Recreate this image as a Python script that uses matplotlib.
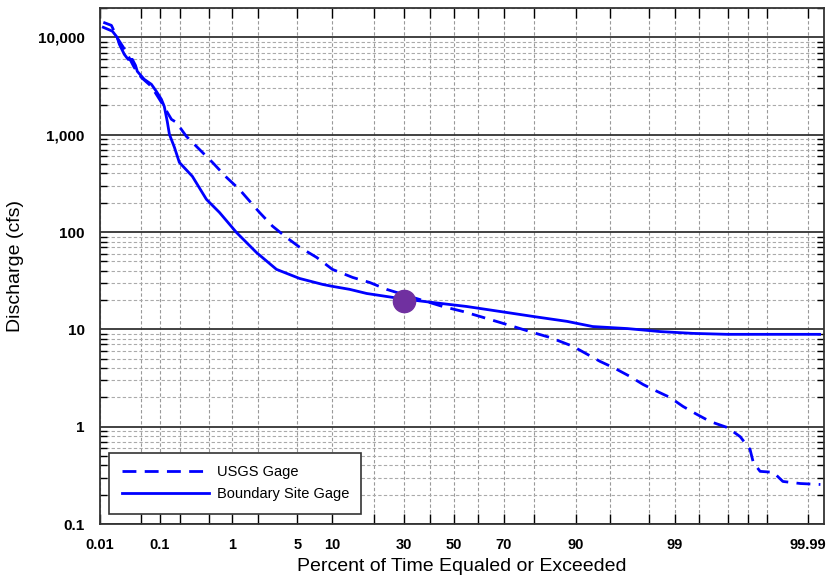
import math
import numpy as np
import matplotlib
matplotlib.use("Agg")
import matplotlib.pyplot as plt
from matplotlib.ticker import FixedLocator, FixedFormatter, NullLocator, LogLocator

# exceedance curves (percent of time, discharge in cfs)
usgs_pct = [0.0115, 0.016, 0.020, 0.027, 0.032, 0.039, 0.051, 0.074, 0.106, 0.150,
            0.177, 0.247, 0.375, 0.56, 0.845, 1.21, 2.06, 2.84, 3.94, 5.25,
            7.47, 10.1, 14.4, 18.8, 24.0, 32.2, 45.4, 53.8, 60.8, 72.2,
            79.7, 84.4, 89.5, 93.8, 95.3, 96.8, 97.67, 98.37, 98.85, 99.20,
            99.47, 99.65, 99.80, 99.870, 99.908, 99.918, 99.936, 99.961, 99.973, 99.9865,
            99.9942]
usgs_cfs = [14300, 13300, 10000, 7550, 6240, 4930, 3890, 3140, 2150, 1440,
            1340, 963, 708, 520, 365, 275, 159, 115, 88, 70,
            55, 41.4, 34.2, 30.4, 25.8, 21.8, 17.2, 15.3, 13.6, 11.0,
            9.3, 8.27, 6.7, 4.69, 4.07, 3.29, 2.72, 2.31, 2.0, 1.62,
            1.34, 1.13, 0.98, 0.79, 0.585, 0.43, 0.348, 0.34, 0.274, 0.261,
            0.255]

site_pct = [0.0115, 0.0166, 0.0202, 0.022, 0.0267, 0.031, 0.0364, 0.041, 0.044, 0.057,
            0.074, 0.0886, 0.106, 0.117, 0.130, 0.140, 0.166, 0.196, 0.30, 0.466,
            0.69, 1.12, 1.90, 3.12, 5.25, 8.4, 10.1, 13.7, 18.0, 28.5,
            41.3, 55.4, 68.6, 79.7, 88.3, 92.8, 96.6, 98.5, 99.41, 99.80,
            99.994]
site_cfs = [12700, 11600, 10000, 8500, 6700, 5950, 5950, 5170, 4480, 3710,
            3300, 2790, 2310, 1960, 1370, 1010, 743, 520, 374, 217,
            159, 99, 61.8, 41.4, 33.4, 29, 27.7, 25.8, 23.4, 20.8,
            18.9, 17.2, 15.3, 13.6, 12.1, 10.7, 10.2, 9.5, 9.1, 8.9,
            8.9]

point_pct = [30]
point_cfs = [19.5]

grid_pct = [0.05, 0.1, 0.2, 0.5, 1, 2, 5, 10, 20, 30, 40, 50, 60, 70, 80, 90,
            95, 98, 99, 99.5, 99.8, 99.9, 99.95, 99.99]
label_pct = [0.01, 0.1, 1, 5, 10, 30, 50, 70, 90, 99, 99.99]
y_ticks = [0.1, 1, 10, 100, 1000, 10000]
y_labels = ["0.1", "1", "10", "100", "1,000", "10,000"]


# normal probability scale (Acklam's inverse normal approximation)
A = [-3.969683028665376e+01, 2.209460984245205e+02, -2.759285104469687e+02,
     1.383577518672690e+02, -3.066479806614716e+01, 2.506628277459239e+00]
B = [-5.447609879822406e+01, 1.615858368580409e+02, -1.556989798598866e+02,
     6.680131188771972e+01, -1.328068155288572e+01]
C = [-7.784894002430293e-03, -3.223964580411365e-01, -2.400758277161838e+00,
     -2.549671348619094e+00, 4.374664141464968e+00, 2.938163982698783e+00]
D = [7.784695709041462e-03, 3.224671290700398e-01, 2.445134137142996e+00,
     3.754408661907416e+00]


def pct_to_z(pct):
    p = np.clip(np.asarray(pct, dtype=float) / 100.0, 1e-12, 1 - 1e-12)
    q = p - 0.5
    r = q * q
    mid = (((((A[0]*r + A[1])*r + A[2])*r + A[3])*r + A[4])*r + A[5]) * q / \
          (((((B[0]*r + B[1])*r + B[2])*r + B[3])*r + B[4])*r + 1)
    t = np.sqrt(-2 * np.log(np.minimum(p, 1 - p)))
    tail = (((((C[0]*t + C[1])*t + C[2])*t + C[3])*t + C[4])*t + C[5]) / \
           ((((D[0]*t + D[1])*t + D[2])*t + D[3])*t + 1)
    tail = np.where(p < 0.5, tail, -tail)
    return np.where(np.abs(q) <= 0.5 - 0.02425, mid, tail)


_erf = np.vectorize(math.erf, otypes=[float])


def z_to_pct(z):
    return 50.0 * (1 + _erf(np.asarray(z, dtype=float) / math.sqrt(2)))


plt.rcParams['font.family'] = ['Liberation Sans', 'DejaVu Sans']

fig = plt.figure(figsize=(8.33, 5.81), dpi=100)
ax = fig.add_axes([0.120, 0.098, 0.869, 0.888])

ax.set_xscale('function', functions=(pct_to_z, z_to_pct))
ax.set_yscale('log')

ax.plot(usgs_pct, usgs_cfs, color='#0000ff', lw=2.0, dashes=(5, 3), label='USGS Gage', zorder=3)
ax.plot(site_pct, site_cfs, color='#0000ff', lw=2.0, label='Boundary Site Gage', zorder=3)
ax.plot(point_pct, point_cfs, 'o', color='#7030a0', ms=16, zorder=5)

ax.set_xlim(0.01, 99.995)
ax.set_ylim(0.1, 20000)

# x ticks: all grid lines, labels only on some
ax.xaxis.set_major_locator(FixedLocator(grid_pct + [0.01]))
ax.xaxis.set_major_formatter(FixedFormatter(
    [("%g" % v if v in label_pct else "") for v in grid_pct] + ["0.01"]))
ax.xaxis.set_minor_locator(NullLocator())

ax.yaxis.set_major_locator(FixedLocator(y_ticks))
ax.yaxis.set_major_formatter(FixedFormatter(y_labels))
ax.yaxis.set_minor_locator(LogLocator(base=10, subs=np.arange(2, 10)))

ax.tick_params(axis='x', which='major', direction='in', top=True, length=7, width=1,
               pad=10, labelsize=10.5)
ax.tick_params(axis='y', which='major', direction='in', right=True, length=0,
               pad=11, labelsize=11)
ax.tick_params(axis='y', which='minor', direction='in', right=True, length=5, width=1)
for lab in ax.get_xticklabels() + ax.get_yticklabels():
    lab.set_fontweight('bold')

ax.grid(True, axis='x', which='major', color='#999999', lw=0.8, ls=(0, (3, 2)))
ax.grid(True, axis='y', which='major', color='#333333', lw=1.3, ls='-')
ax.grid(True, axis='y', which='minor', color='#aaaaaa', lw=0.8, ls=(0, (3, 2)))
ax.set_axisbelow(True)

for sp in ax.spines.values():
    sp.set_linewidth(1.3)
    sp.set_color('#333333')

ax.set_xlabel("Percent of Time Equaled or Exceeded", fontsize=14, labelpad=4)
ax.set_ylabel("Discharge (cfs)", fontsize=14, labelpad=10)

leg = ax.legend(loc='lower left', bbox_to_anchor=(0.013, 0.02), fontsize=10.5,
                handlelength=6, handletextpad=0.5, fancybox=False, framealpha=1,
                edgecolor='#333333', borderpad=0.85, labelspacing=0.55, borderaxespad=0)
leg.get_frame().set_linewidth(1.2)

fig.savefig("out.png", dpi=100)
